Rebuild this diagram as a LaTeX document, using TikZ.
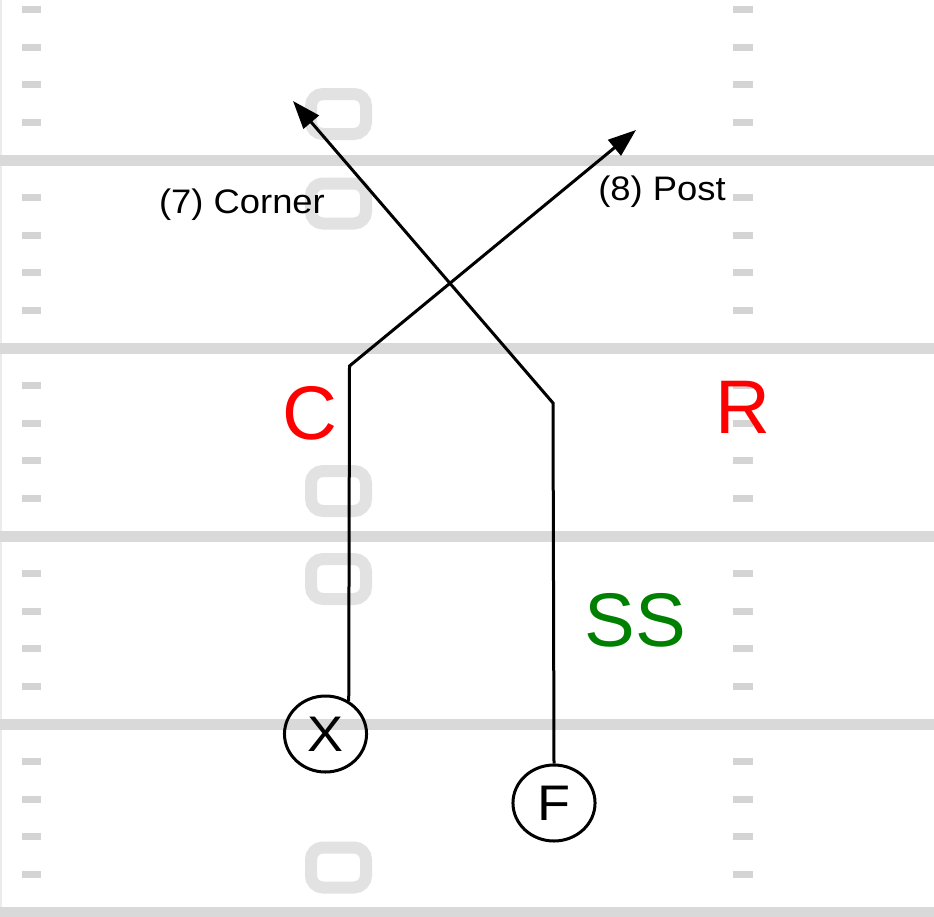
\documentclass[tikz,border=0pt]{standalone}
\usepackage{fontspec}
\setmainfont{Liberation Sans}
\usetikzlibrary{arrows.meta,calc}
\definecolor{yardgray}{HTML}{D9D9D9}
\definecolor{hashgray}{HTML}{D4D4D4}
\definecolor{numgray}{HTML}{E2E2E2}
\definecolor{edgegray}{HTML}{EBEBEB}
\definecolor{defred}{HTML}{FF0000}
\definecolor{defgreen}{HTML}{008000}
\begin{document}
\begin{tikzpicture}[x=1pt,y=-1pt,
  yard/.style={draw=yardgray,line width=11pt},
  hashmark/.style={fill=hashgray},
  numzero/.style={draw=numgray,line width=12pt,rounded corners=12pt},
  player/.style={circle,draw=black,line width=3pt,minimum size=76pt,inner sep=0pt,
    font=\fontsize{50}{50}\selectfont,xscale=1.08},
  route/.style={draw=black,line width=3pt},
  routearrow/.style={route,-{Triangle[length=28pt,width=20pt]}},
  defender/.style={font=\fontsize{76}{76}\selectfont,anchor=base},
  rlabel/.style={font=\fontsize{34}{34}\selectfont,anchor=base,xscale=1.07}]
\fill[white] (0,0) rectangle (934,916);
\useasboundingbox (0,0) rectangle (934,916);
% left edge
\draw[edgegray,line width=2pt] (1,0) -- (1,916);
% yard lines
\foreach \yy in {160,348,536,724,912} \draw[yard] (0,\yy) -- (934,\yy);
% hash marks
\foreach \yy in {9.6,47.2,84.8,122.4,197.6,235.2,272.8,310.4,385.6,423.2,460.8,498.4,573.6,611.2,648.8,686.4,761.6,799.2,836.8,874.4}{
  \fill[hashmark] (22,\yy-3.5) rectangle (41,\yy+3.5);
  \fill[hashmark] (733,\yy-3.5) rectangle (753,\yy+3.5);
}
% yard numbers (zeros)
\foreach \yy in {114,203.5,491,579,867.5}
  \draw[numzero] (311,\yy-20) rectangle (366,\yy+20);
% players
\node[player] (X) at (325.5,734) {X};
\node[player] (F) at (554,803) {F};
% route points
\coordinate (xbreak) at (349.5,366);
\coordinate (posttip) at (636,130);
\coordinate (fbreak) at (553,403);
\coordinate (cornertip) at (293,101);
% routes
\draw[routearrow] (X.57) -- (xbreak) -- (posttip);
\draw[routearrow] (F.north) -- (fbreak) -- (cornertip);
% route labels
\node[rlabel] (corner) at (242,213) {(7) Corner};
\node[rlabel] (post) at (662,200) {(8) Post};
% defenders
\node[defender,text=defred] (C) at (310,439) {C};
\node[defender,text=defred] (R) at (743,433) {R};
\node[defender,text=defgreen] (SS) at (635,646) {SS};
\end{tikzpicture}
\end{document}
